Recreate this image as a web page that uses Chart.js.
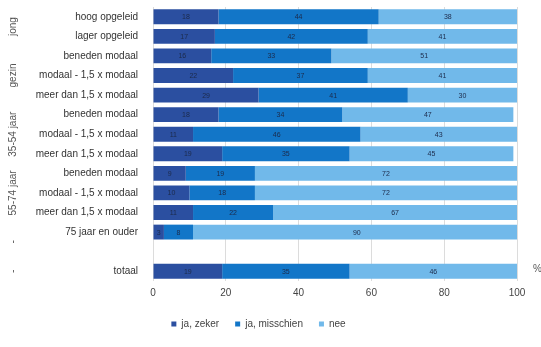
<!DOCTYPE html>
<html>
<head>
<meta charset="utf-8">
<script src="https://cdn.jsdelivr.net/npm/chart.js@4.4.0/dist/chart.umd.min.js"></script>
<style>
  html, body { margin: 0; padding: 0; background: #fff; }
  #wrap { width: 541px; height: 347px; position: relative; }
</style>
</head>
<body>
<div id="wrap"><canvas id="myChart"></canvas></div>
<script>
// categories (empty one is the gap before totaal)
const categories = [
    'hoog opgeleid', 'lager opgeleid',
    'beneden modaal', 'modaal - 1,5 x modaal', 'meer dan 1,5 x modaal',
    'beneden modaal', 'modaal - 1,5 x modaal', 'meer dan 1,5 x modaal',
    'beneden modaal', 'modaal - 1,5 x modaal', 'meer dan 1,5 x modaal',
    '75 jaar en ouder', '', 'totaal'
];
const jaZeker     = [18, 17, 16, 22, 29, 18, 11, 19, 9, 10, 11, 3, null, 19];
const jaMisschien = [44, 42, 33, 37, 41, 34, 46, 35, 19, 18, 22, 8, null, 35];
const nee         = [38, 41, 51, 41, 30, 47, 43, 45, 72, 72, 67, 90, null, 46];
const seriesNames = ['ja, zeker', 'ja, misschien', 'nee'];
const xTicks = [0, 20, 40, 60, 80, 100];

// group labels on the far left: [text, first row, last row]
const groupNames = ['jong', 'gezin', '35-54 jaar', '55-74 jaar', '-', '-'];
const groupFrom  = [0, 2, 5, 8, 11.5, 13];
const groupTo    = [1, 4, 7, 10, 11.5, 13];

const colors = ['#2b4fa0', '#1276c8', '#71b9ea'];

const valueLabels = {
    id: 'valueLabels',
    afterDatasetsDraw(chart) {
        const ctx = chart.ctx;
        ctx.save();
        ctx.font = '7px "Liberation Sans", Arial, sans-serif';
        ctx.fillStyle = '#1c2a4a';
        ctx.textAlign = 'center';
        ctx.textBaseline = 'middle';
        chart.data.datasets.forEach((ds, i) => {
            chart.getDatasetMeta(i).data.forEach((bar, j) => {
                if (ds.data[j] == null) return;
                ctx.fillText(ds.data[j], (bar.base + bar.x) / 2, bar.y + 0.5);
            });
        });
        ctx.restore();
    }
};

const groupLabels = {
    id: 'groupLabels',
    afterDraw(chart) {
        const ctx = chart.ctx;
        const y = chart.scales.y;
        const x = chart.scales.x;
        ctx.save();
        ctx.font = '10px "Liberation Sans", Arial, sans-serif';
        ctx.fillStyle = '#555';
        ctx.textAlign = 'center';
        ctx.textBaseline = 'middle';
        groupNames.forEach((name, i) => {
            const cy = (y.getPixelForValue(groupFrom[i]) + y.getPixelForValue(groupTo[i])) / 2;
            ctx.save();
            ctx.translate(13, cy);
            ctx.rotate(-Math.PI / 2);
            ctx.fillText(name, 0, 0);
            ctx.restore();
        });
        // % sign after the axis
        ctx.textAlign = 'left';
        ctx.fillText('%', x.right + 16, y.getPixelForValue(13) - 2);
        ctx.restore();
    }
};

new Chart(document.getElementById('myChart'), {
    type: 'bar',
    data: {
        labels: categories,
        datasets: seriesNames.map((name, i) => ({
            label: name,
            data: [jaZeker, jaMisschien, nee][i],
            backgroundColor: colors[i],
            barPercentage: 0.76,
            categoryPercentage: 1.0
        }))
    },
    options: {
        indexAxis: 'y',
        responsive: true,
        maintainAspectRatio: false,
        animation: false,
        layout: { padding: { top: 7, right: 24, left: 0, bottom: 8 } },
        plugins: {
            legend: {
                position: 'bottom',
                labels: {
                    boxWidth: 5,
                    boxHeight: 5,
                    padding: 16,
                    color: '#444',
                    font: { size: 10, family: '"Liberation Sans", Arial, sans-serif' }
                }
            },
            tooltip: { enabled: false }
        },
        scales: {
            x: {
                stacked: true,
                min: 0,
                max: 100,
                afterBuildTicks(scale) {
                    scale.ticks = xTicks.map(v => ({ value: v }));
                },
                afterFit(scale) { scale.height = 22; },
                grid: { color: '#dcdcdc', drawTicks: false },
                border: { display: false },
                ticks: {
                    padding: 6,
                    color: '#444',
                    font: { size: 10, family: '"Liberation Sans", Arial, sans-serif' }
                }
            },
            y: {
                stacked: true,
                afterFit(scale) {
                    scale.width = 153;
                    scale.paddingTop = 0;
                    scale.paddingBottom = 0;
                },
                grid: { display: false },
                border: { display: false },
                ticks: {
                    padding: 7,
                    autoSkip: false,
                    color: '#333',
                    font: { size: 10, family: '"Liberation Sans", Arial, sans-serif' }
                }
            }
        }
    },
    plugins: [valueLabels, groupLabels]
});
</script>
</body>
</html>
